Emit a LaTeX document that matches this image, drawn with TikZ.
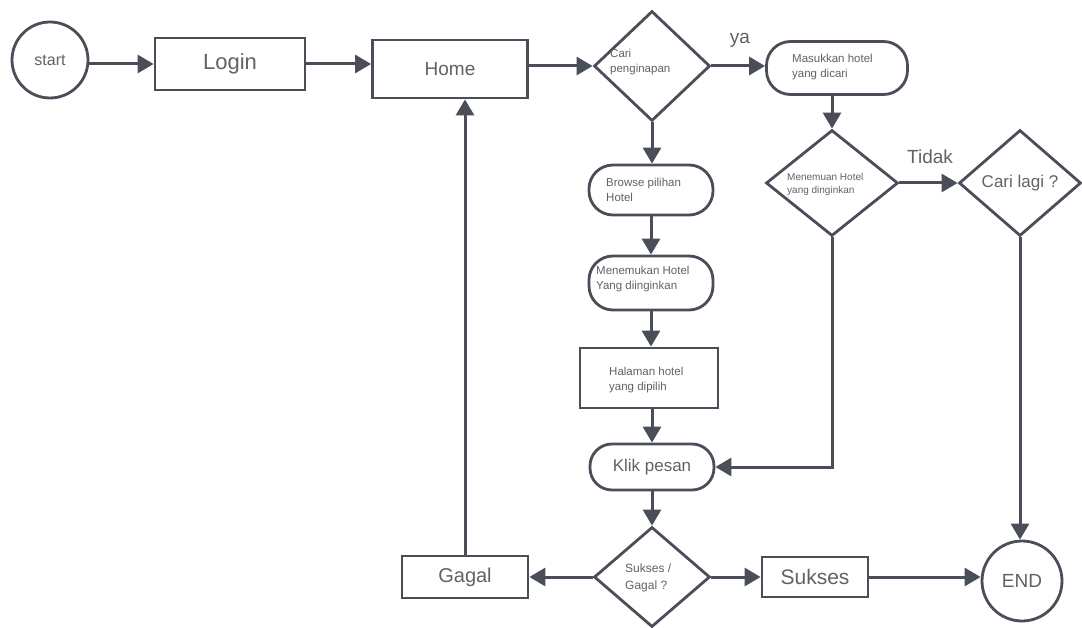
\documentclass[tikz,border=0pt]{standalone}
\usepackage{fontspec}
\setmainfont{Liberation Sans}
\usetikzlibrary{shapes.geometric,arrows.meta}
\definecolor{ln}{HTML}{4A4E59}
\definecolor{tx}{HTML}{606268}
\newcommand{\fs}[1]{\fontsize{#1}{#1}\selectfont}
\begin{document}
\begin{tikzpicture}[x=1pt,y=-1pt,
  box/.style={draw=ln, line width=2.8pt, fill=white, inner sep=0pt, text=tx},
  rbox/.style={box, rounded corners=24pt},
  dia/.style={box, diamond},
  tbox/.style={text=tx, inner sep=0pt},
  small/.style={tbox, align=left, font=\fs{11.5}\linespread{1.35}\selectfont},
  arr/.style={draw=ln, line width=3pt, -{Triangle[length=16pt,width=18pt]}},
  plain/.style={draw=ln, line width=3pt}]
\useasboundingbox[fill=white] (0,0) rectangle (1082,628);

% nodes
\node[box, circle, minimum size=76pt, font=\fs{16}] (start) at (50,60) {start};
\node[box, minimum width=150pt, minimum height=52pt, font=\fs{22}] (login) at (230,64) {Login};
\node[box, minimum width=155pt, minimum height=58pt, font=\fs{19}] (home) at (450,69) {Home};
\node[dia, minimum width=116pt, minimum height=110pt] (d1) at (652,66) {};
\node[small, anchor=west] (t1) at (610,62) {Cari\\penginapan};
\node[rbox, minimum width=141pt, minimum height=53pt] (mas) at (837,68) {};
\node[small, anchor=west] (tmas) at (792,67) {Masukkan hotel\\yang dicari};
\node[dia, minimum width=132pt, minimum height=106pt] (d2) at (832,183) {};
\node[small, anchor=west, font=\fs{10}\linespread{1.3}\selectfont] (td2) at (787,184) {Menemuan Hotel\\yang dinginkan};
\node[dia, minimum width=122pt, minimum height=106pt, font=\fs{17}] (d3) at (1020,183) {Cari lagi ?};
\node[box, circle, minimum size=80pt, font=\fs{19}] (end) at (1022,581) {END};

\node[rbox, minimum width=124pt, minimum height=50pt] (browse) at (651,190) {};
\node[small, anchor=west] (tbr) at (606,190) {Browse pilihan\\Hotel};
\node[rbox, minimum width=124pt, minimum height=54pt] (menem) at (651,283) {};
\node[small, anchor=west] (tme) at (596,279) {Menemukan Hotel\\Yang diinginkan};
\node[box, minimum width=138pt, minimum height=60pt] (hal) at (649,378) {};
\node[small, anchor=west] (tha) at (609,380) {Halaman hotel\\yang dipilih};
\node[rbox, rounded corners=22pt, minimum width=124pt, minimum height=46pt, font=\fs{17}] (klik) at (652,467) {Klik pesan};
\node[dia, minimum width=116pt, minimum height=100pt] (d4) at (652,577) {};
\node[small, anchor=west, font=\fs{12}\linespread{1.4}\selectfont] (td4) at (625,578) {Sukses /\\Gagal ?};
\node[box, minimum width=126pt, minimum height=42pt, font=\fs{20}] (gagal) at (465,577) {Gagal};
\node[box, minimum width=106pt, minimum height=40pt, font=\fs{21}] (sukses) at (815,577) {Sukses};

\node[tbox, font=\fs{19}] (ya) at (740,40) {ya};
\node[tbox, font=\fs{19}] (tidak) at (930,157) {Tidak};

% connectors
\draw[arr] (start.east |- login.west) -- (login.west);
\draw[arr] (login.east) -- (login.east -| home.west);
\draw[arr] (home.east |- d1.west) -- (d1.west);
\draw[arr] (d1.east) -- (d1.east -| mas.west);
\draw[arr] (mas.south -| d2.north) -- (d2.north);
\draw[arr] (d2.east) -- (d3.west);
\draw[arr] (d3.south) -- (d3.south |- end.north);
\draw[arr] (d1.south) -- (d1.south |- browse.north);
\draw[arr] (browse.south) -- (menem.north);
\draw[arr] (menem.south) -- (menem.south |- hal.north);
\draw[arr] (hal.south -| klik.north) -- (klik.north);
\draw[arr] (d2.south) |- (klik.east);
\draw[arr] (klik.south) -- (d4.north);
\draw[arr] (d4.west) -- (gagal.east);
\draw[arr] (gagal.north) -- (gagal.north |- home.south);
\draw[arr] (d4.east) -- (sukses.west);
\draw[arr] (sukses.east) -- (sukses.east -| end.west);
\end{tikzpicture}
\end{document}
